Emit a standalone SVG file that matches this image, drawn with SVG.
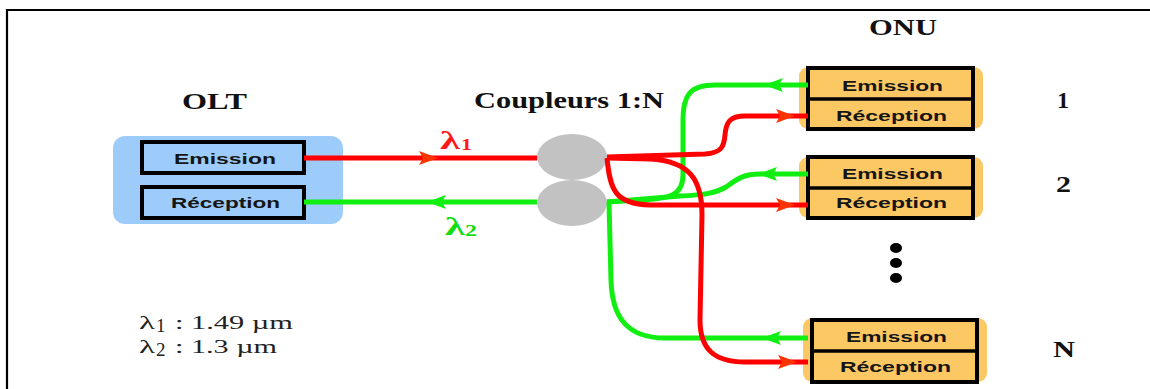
<svg xmlns="http://www.w3.org/2000/svg" width="1150" height="389" viewBox="0 0 1150 389">
  <style>
    .title { font-family: "Liberation Serif", "Times New Roman", serif; font-weight: bold; font-size: 23px; fill: #111; }
    .cell { font-family: "Liberation Sans", Arial, sans-serif; font-weight: bold; font-size: 15.5px; fill: #151515; }
    .box { fill: none; stroke: #000; stroke-width: 4; }
    .div { stroke: #000; stroke-width: 3.5; }
    .olt-bg { fill: #9dcbfa; }
    .onu-bg { fill: #fcc864; }
    .coupler { fill: #c2c2c2; }
    .red { fill: none; stroke: #ff0000; stroke-width: 5; }
    .green { fill: none; stroke: #11ee11; stroke-width: 5; }
    .legend { font-family: "Liberation Serif", "Times New Roman", serif; font-size: 19px; fill: #222; }
    .lam { font-family: "Liberation Serif", "Times New Roman", serif; font-weight: bold; }
  </style>
  <defs>
    <!-- arrowheads: tip at the origin, pointing right -->
    <path id="headR" d="M0,0 L-19,-7 L-15,0 L-19,7 Z" fill="#ff3300"/>
    <path id="headG" d="M0,0 L-19,-7 L-15,0 L-19,7 Z" fill="#11ee11"/>
  </defs>

  <rect width="1150" height="389" fill="#fff"/>

  <!-- frame -->
  <path d="M7,389 V10 H1150" fill="none" stroke="#000" stroke-width="2.2"/>

  <!-- OLT -->
  <g id="olt">
    <text class="title" x="182" y="109" textLength="65" lengthAdjust="spacingAndGlyphs">OLT</text>
    <rect class="olt-bg" x="113" y="136" width="230" height="88" rx="12"/>
    <rect class="box" x="142" y="142" width="162" height="31"/>
    <text class="cell" x="174" y="164" textLength="102" lengthAdjust="spacingAndGlyphs">Emission</text>
    <rect class="box" x="142" y="187" width="162" height="31"/>
    <text class="cell" x="171" y="208" textLength="109" lengthAdjust="spacingAndGlyphs">Réception</text>
  </g>

  <!-- coupler -->
  <g id="coupler">
    <text class="title" x="474" y="108" textLength="190" lengthAdjust="spacingAndGlyphs">Coupleurs 1:N</text>
    <ellipse class="coupler" cx="572" cy="157" rx="35" ry="23"/>
    <ellipse class="coupler" cx="572" cy="203" rx="35" ry="23"/>
  </g>

  <!-- ONU column -->
  <text class="title" x="869" y="35" textLength="68" lengthAdjust="spacingAndGlyphs">ONU</text>

  <g id="onu1">
    <rect class="onu-bg" x="799" y="67" width="184" height="62" rx="9"/>
    <rect class="box" x="808" y="68" width="165" height="61"/>
    <line class="div" x1="808" y1="99" x2="973" y2="99"/>
    <text class="cell" x="842" y="91" textLength="101" lengthAdjust="spacingAndGlyphs">Emission</text>
    <text class="cell" x="836" y="121" textLength="111" lengthAdjust="spacingAndGlyphs">Réception</text>
    <text class="title" x="1057" y="108" textLength="12" lengthAdjust="spacingAndGlyphs">1</text>
  </g>

  <g id="onu2">
    <rect class="onu-bg" x="799" y="157" width="184" height="61" rx="9"/>
    <rect class="box" x="808" y="157" width="165" height="61"/>
    <line class="div" x1="808" y1="188" x2="973" y2="188"/>
    <text class="cell" x="842" y="179" textLength="101" lengthAdjust="spacingAndGlyphs">Emission</text>
    <text class="cell" x="836" y="208" textLength="111" lengthAdjust="spacingAndGlyphs">Réception</text>
    <text class="title" x="1056" y="192" textLength="15" lengthAdjust="spacingAndGlyphs">2</text>
  </g>

  <g id="dots" fill="#000">
    <ellipse cx="896" cy="248" rx="6" ry="5"/>
    <ellipse cx="896" cy="263" rx="6" ry="5"/>
    <ellipse cx="896" cy="278" rx="6" ry="5"/>
  </g>

  <g id="onuN">
    <rect class="onu-bg" x="803" y="318" width="184" height="64" rx="9"/>
    <rect class="box" x="812" y="320" width="165" height="62"/>
    <line class="div" x1="812" y1="351" x2="977" y2="351"/>
    <text class="cell" x="846" y="342" textLength="101" lengthAdjust="spacingAndGlyphs">Emission</text>
    <text class="cell" x="840" y="372" textLength="111" lengthAdjust="spacingAndGlyphs">Réception</text>
    <text class="title" x="1053" y="357" textLength="22" lengthAdjust="spacingAndGlyphs">N</text>
  </g>

  <!-- fibres -->
  <g id="connectors">
    <!-- upstream, λ2 -->
    <path class="green" d="M537,202 H304"/>
    <path class="green" d="M808,85 L715,85 C690,85 683,95 683,120 L683,175 C683,195 670,199 640,200 L607,202"/>
    <path class="green" d="M808,174 L760,174 C742,174 736,180 726,187 C716,193 705,195 680,196 L607,202"/>
    <path class="green" d="M808,338 L665,338 C626,338 612,316 611,280 L609,202"/>
    <!-- downstream, λ1 -->
    <path class="red" d="M304,158 H537"/>
    <path class="red" d="M607,157 L705,154 C722,153 724,146 725,135 C726,122 730,116 745,116 L808,116"/>
    <path class="red" d="M607,158 C610,190 615,204 650,205 L808,205"/>
    <path class="red" d="M607,158 L650,159 C690,161 702,180 702,215 L700,320 C700,350 715,362 745,362 L808,362"/>

    <!-- arrowheads -->
    <use href="#headR" transform="translate(438,158)"/>
    <use href="#headG" transform="translate(427,202) rotate(180)"/>
    <use href="#headR" transform="translate(795,116)"/>
    <use href="#headR" transform="translate(795,205)"/>
    <use href="#headR" transform="translate(797,362)"/>
    <use href="#headG" transform="translate(764,85) rotate(180)"/>
    <use href="#headG" transform="translate(758,174) rotate(180)"/>
    <use href="#headG" transform="translate(762,338) rotate(180)"/>
  </g>

  <!-- wavelength tags on the feeder -->
  <g id="lambda-tags">
    <text class="lam" x="440" y="149" font-size="25" fill="#ff1a1a" textLength="20" lengthAdjust="spacingAndGlyphs">λ</text>
    <text class="lam" x="461" y="150" font-size="16" fill="#ff1a1a" textLength="11" lengthAdjust="spacingAndGlyphs">1</text>
    <text class="lam" x="445" y="235" font-size="25" fill="#11dd11" textLength="20" lengthAdjust="spacingAndGlyphs">λ</text>
    <text class="lam" x="465" y="236" font-size="16" fill="#11dd11" textLength="12" lengthAdjust="spacingAndGlyphs">2</text>
  </g>

  <!-- legend -->
  <g id="legend">
    <text class="legend" x="139" y="329" textLength="16" lengthAdjust="spacingAndGlyphs">λ</text>
    <text class="legend" x="156" y="332" font-size="12">1</text>
    <text class="legend" x="175" y="329" textLength="118" lengthAdjust="spacingAndGlyphs">: 1.49 µm</text>
    <text class="legend" x="139" y="353" textLength="16" lengthAdjust="spacingAndGlyphs">λ</text>
    <text class="legend" x="156" y="356" font-size="12">2</text>
    <text class="legend" x="175" y="353" textLength="102" lengthAdjust="spacingAndGlyphs">: 1.3 µm</text>
  </g>
</svg>
